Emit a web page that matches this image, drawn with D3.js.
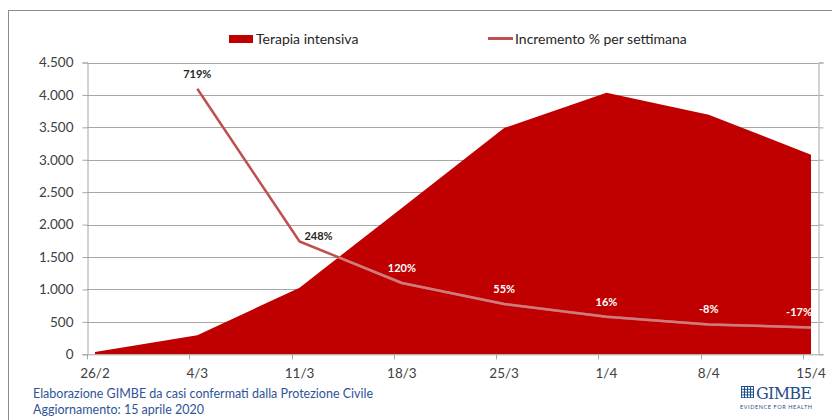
<!DOCTYPE html>
<html>
<head>
<meta charset="utf-8">
<script src="https://cdn.jsdelivr.net/npm/d3@7"></script>
<style>
  html, body { margin: 0; padding: 0; background: #fff; }
  svg { display: block; font-family: Lato, "Open Sans", sans-serif; }
</style>
</head>
<body>
<svg id="chart" width="832" height="420"></svg>
<script>
// ---- data ----
const categories = ["26/2", "4/3", "11/3", "18/3", "25/3", "1/4", "8/4", "15/4"];
const intensiveCare = [36, 295, 1028, 2257, 3489, 4035, 3693, 3079];
const weeklyIncrease = [null, 719, 248, 120, 55, 16, -8, -17];
const yTicks = [0, 500, 1000, 1500, 2000, 2500, 3000, 3500, 4000, 4500];
const legendLabels = ["Terapia intensiva", "Incremento % per settimana"];
const footnotes = ["Elaborazione GIMBE da casi confermati dalla Protezione Civile", "Aggiornamento: 15 aprile 2020"];

// ---- layout ----
const svg = d3.select("#chart");
const plotL = 87, plotR = 818, plotT = 62.5, plotB = 354.3;
const areaColor = "#c00000", lineColor = "#c0504d", gridColor = "#a6a6a6", textColor = "#404040";

const x = d3.scalePoint().domain(categories).range([95, 811]);
const y = d3.scaleLinear().domain([0, 4500]).range([plotB, plotT]);
const y2 = d3.scaleLinear().domain([-100, 800]).range([plotB, plotT]);
const step = x.step();

const itLoc = d3.formatLocale({decimal: ",", thousands: ".", grouping: [3], currency: ["", "€"]});
const fmt = itLoc.format(",d");

// outer frame
svg.append("rect").attr("x", 8.5).attr("y", 10.5).attr("width", 840).attr("height", 420)
  .attr("fill", "none").attr("stroke", "#8c8c8c").attr("stroke-width", 1);

// gridlines
svg.append("g").selectAll("line").data(yTicks.slice(1)).join("line")
  .attr("x1", plotL).attr("x2", plotR)
  .attr("y1", d => Math.round(y(d)) + 0.5).attr("y2", d => Math.round(y(d)) + 0.5)
  .attr("stroke", gridColor).attr("stroke-width", 1);

// left axis
const yAxis = d3.axisLeft(y).tickValues(yTicks).tickFormat(fmt).tickSize(5).tickPadding(9);
const gy = svg.append("g").attr("transform", `translate(${plotL + 0.5},0)`).call(yAxis);
gy.select(".domain").attr("stroke", gridColor);
gy.selectAll(".tick line").attr("stroke", gridColor);
gy.selectAll(".tick text").attr("fill", textColor).attr("font-size", 13.5)
  .attr("font-family", "Lato, sans-serif");

// right axis (secondary, no labels)
const y2Axis = d3.axisRight(y2).tickValues(d3.range(-100, 801, 100)).tickFormat("").tickSize(5);
const gy2 = svg.append("g").attr("transform", `translate(${plotR + 0.5},0)`).call(y2Axis);
gy2.select(".domain").attr("stroke", gridColor);
gy2.selectAll(".tick line").attr("stroke", gridColor);

// area
const area = d3.area()
  .x((d, i) => x(categories[i]))
  .y0(y(0))
  .y1(d => y(d));
svg.append("path").datum(intensiveCare).attr("d", area).attr("fill", areaColor);

// x axis
const gx = svg.append("g");
gx.append("line").attr("x1", plotL).attr("x2", plotR)
  .attr("y1", plotB + 0.5).attr("y2", plotB + 0.5).attr("stroke", gridColor);
gx.selectAll("line.tk").data(categories).join("line").attr("class", "tk")
  .attr("x1", d => Math.round(x(d) - step * 0.078) + 0.5)
  .attr("x2", d => Math.round(x(d) - step * 0.078) + 0.5)
  .attr("y1", plotB).attr("y2", plotB + 5).attr("stroke", gridColor);
gx.selectAll("text").data(categories).join("text")
  .attr("x", d => x(d)).attr("y", 378)
  .attr("text-anchor", "middle").attr("fill", textColor).attr("font-size", 13.5)
  .text(d => d);

// line series
const lineData = weeklyIncrease.map((v, i) => ({cat: categories[i], v, area: intensiveCare[i]})).filter(d => d.v !== null);
const line = d3.line().x(d => x(d.cat)).y(d => y2(d.v));
svg.append("path").datum(lineData).attr("d", line)
  .attr("fill", "none").attr("stroke", lineColor).attr("stroke-width", 2.5).attr("stroke-linejoin", "round");

// lighter look of the line where it crosses the filled area
svg.append("clipPath").attr("id", "areaClip")
  .append("path").datum(intensiveCare).attr("d", area);
svg.append("path").datum(lineData).attr("d", line).attr("clip-path", "url(#areaClip)")
  .attr("fill", "none").attr("stroke", "#cf7b7b").attr("stroke-width", 2.5).attr("stroke-linejoin", "round");

// data labels
const rightLabelIndex = 1;
const labels = svg.append("g").selectAll("text").data(lineData).join("text")
  .attr("x", (d, i) => x(d.cat) + (i === rightLabelIndex ? 19 : 0))
  .attr("y", (d, i) => y2(d.v) + (i === rightLabelIndex ? -1 : -11))
  .attr("text-anchor", "middle")
  .attr("font-size", 11).attr("font-weight", "bold")
  .attr("fill", d => (y2(d.v) - 15 > y(d.area)) ? "#ffffff" : "#262626")
  .text(d => d.v + "%");
// keep labels inside the area's right edge
labels.each(function (d) {
  const t = d3.select(this);
  const w = this.getComputedTextLength();
  const cx = +t.attr("x");
  const maxX = x(categories[categories.length - 1]) + 1 - w / 2;
  if (cx > maxX) t.attr("x", maxX);
});

// legend
const lg = svg.append("g");
lg.append("rect").attr("x", 229).attr("y", 35).attr("width", 24).attr("height", 8).attr("fill", areaColor);
lg.append("text").attr("x", 256).attr("y", 43.5).attr("font-size", 14).attr("fill", "#262626").text(legendLabels[0]);
lg.append("line").attr("x1", 488).attr("x2", 513).attr("y1", 38.5).attr("y2", 38.5)
  .attr("stroke", lineColor).attr("stroke-width", 3);
lg.append("text").attr("x", 515).attr("y", 43.5).attr("font-size", 14).attr("fill", "#262626").text(legendLabels[1]);

// footnotes
svg.append("g").selectAll("text").data(footnotes).join("text")
  .attr("x", 33).attr("y", (d, i) => 398 + i * 16)
  .attr("font-size", 12.5).attr("fill", "#2f5597").text(d => d);

// GIMBE logo
const logo = svg.append("g");
logo.append("rect").attr("x", 741).attr("y", 386).attr("width", 13).attr("height", 12).attr("fill", "#1f4e8c");
for (let r = 0; r < 4; r++) for (let c = 0; c < 4; c++) {
  logo.append("rect").attr("x", 742 + c * 3).attr("y", 387 + r * 2.8).attr("width", 2).attr("height", 1.8).attr("fill", "#fff");
}
logo.append("text").attr("x", 756).attr("y", 399).attr("font-family", "'DejaVu Serif', 'Liberation Serif', serif")
  .attr("font-size", 16).attr("fill", "#1f4e8c").attr("textLength", 56).text("GIMBE");
logo.append("text").attr("x", 740).attr("y", 409).attr("font-size", 5.5).attr("fill", "#1f4e8c")
  .attr("textLength", 72).text("EVIDENCE FOR HEALTH");
</script>
</body>
</html>
